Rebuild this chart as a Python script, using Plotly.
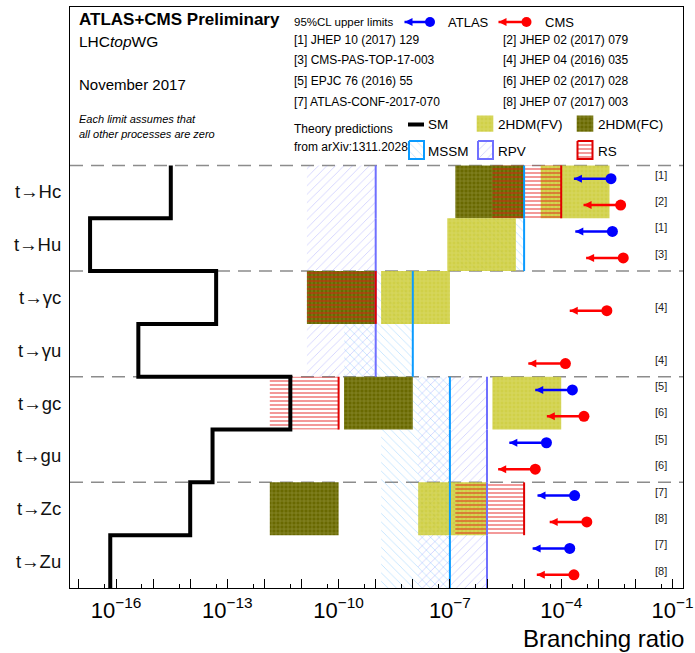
import plotly.graph_objects as go

# ---------------- data ----------------
processes = ["t→Hc", "t→Hu", "t→γc", "t→γu", "t→gc", "t→gu", "t→Zc", "t→Zu"]

# Standard Model predictions
sm_br = [3e-15, 2e-17, 5e-14, 4e-16, 5e-12, 4e-14, 1e-14, 7e-17]

# Theory bands (low / high edge as drawn), None = no prediction
fv_lo = [2.8e-5, 8.5e-8, 1.4e-9, None, 1.4e-6, None, 1.4e-8, None]
fv_hi = [2e-3, 6e-6, 1e-7, None, 1e-4, None, 1e-6, None]
fc_lo = [1.4e-7, None, 1.4e-11, None, 1.4e-10, None, 1.4e-12, None]
fc_hi = [1e-5, None, 1e-9, None, 1e-8, None, 1e-10, None]
mssm_lo = [1.4e-7, 1.4e-7, 1.4e-10, 1.4e-10, 1.4e-9, 1.4e-9, 1.4e-9, 1.4e-9]
mssm_hi = [1e-5, 1e-5, 1e-8, 1e-8, 1e-7, 1e-7, 1e-7, 1e-7]
rpv_lo = [1.4e-11, 1.4e-11, 1.4e-11, 1.4e-11, 1.4e-8, 1.4e-8, 1.4e-8, 1.4e-8]
rpv_hi = [1e-9, 1e-9, 1e-9, 1e-9, 1e-6, 1e-6, 1e-6, 1e-6]
rs_lo = [1.4e-6, None, 1.4e-11, None, 1.4e-12, None, 1.4e-7, None]
rs_hi = [1e-4, None, 1e-9, None, 1e-10, None, 1e-5, None]

# 95% CL upper limits
atlas_limit = [2.2e-3, 2.4e-3, None, None, 2.0e-4, 4.0e-5, 2.3e-4, 1.7e-4]
cms_limit = [4.0e-3, 4.7e-3, 1.7e-3, 1.3e-4, 4.1e-4, 2.0e-5, 4.9e-4, 2.2e-4]
atlas_ref = ["[1]", "[1]", None, None, "[5]", "[5]", "[7]", "[7]"]
cms_ref = ["[2]", "[3]", "[4]", "[4]", "[6]", "[6]", "[8]", "[8]"]
arrow_factor = 10.0  # arrows span one decade

references = [
    ("[1] JHEP 10 (2017) 129", "[2] JHEP 02 (2017) 079"),
    ("[3] CMS-PAS-TOP-17-003", "[4] JHEP 04 (2016) 035"),
    ("[5] EPJC 76 (2016) 55", "[6] JHEP 02 (2017) 028"),
    ("[7] ATLAS-CONF-2017-070", "[8] JHEP 07 (2017) 003"),
]

tick_exps = list(range(-17, 0))
labelled_exps = [-16, -13, -10, -7, -4, -1]

# ---------------- layout helpers ----------------
FONT = "Liberation Sans, Arial, Helvetica, sans-serif"
W, H = 695, 653
L, R, T, B = 70, 683, 7, 588
XR = [-17.24, -0.717]


def px(x):
    return (x - L) / (R - L)


def py(y):
    return (B - y) / (B - T)


N = len(processes)
top = [N - i for i in range(N)]
bot = [N - i - 1 for i in range(N)]
ctr = [N - i - 0.5 for i in range(N)]

fig = go.Figure()


def add_band(lo, hi, fillcolor, pattern):
    xs, ys = [], []
    for i in range(N):
        if hi[i] is None:
            continue
        xs += [lo[i], hi[i], hi[i], lo[i], lo[i], None]
        ys += [top[i], top[i], bot[i], bot[i], top[i], None]
    fig.add_trace(go.Scatter(x=xs, y=ys, mode="lines", fill="toself",
                             fillcolor=fillcolor, fillpattern=pattern,
                             line=dict(width=0), hoverinfo="skip",
                             showlegend=False))


def add_edge(hi, color, width=2):
    xs, ys = [], []
    for i in range(N):
        if hi[i] is None:
            continue
        xs += [hi[i], hi[i], None]
        ys += [top[i], bot[i], None]
    fig.add_trace(go.Scatter(x=xs, y=ys, mode="lines",
                             line=dict(color=color, width=width),
                             hoverinfo="skip", showlegend=False))


C_RPV = "#7070ff"
C_MSSM = "#0a9bff"
C_RS = "#e00000"

FV_BG = "rgba(200,200,40,0.85)"
FC_BG = "rgb(105,105,0)"
P_RPV = dict(shape="/", fgcolor="rgba(110,110,255,0.6)", bgcolor="rgba(0,0,0,0)",
             size=6, solidity=0.15, fillmode="overlay")
P_MSSM = dict(shape="\\", fgcolor="rgba(60,170,255,0.6)", bgcolor="rgba(0,0,0,0)",
              size=6, solidity=0.15, fillmode="overlay")
P_FC = dict(shape="+", fgcolor="rgba(210,210,150,0.7)", bgcolor=FC_BG,
            size=4, solidity=0.3, fillmode="overlay")
P_FV = dict(shape="+", fgcolor="rgba(235,235,170,0.7)", bgcolor=FV_BG,
            size=4, solidity=0.3, fillmode="overlay")
P_RS = dict(shape="-", fgcolor="rgb(225,0,0)", bgcolor="rgba(0,0,0,0)",
            size=4, solidity=0.4, fillmode="overlay")

add_band(rpv_lo, rpv_hi, "rgba(0,0,0,0)", P_RPV)
add_band(mssm_lo, mssm_hi, "rgba(0,0,0,0)", P_MSSM)
add_band(fc_lo, fc_hi, FC_BG, P_FC)
add_band(fv_lo, fv_hi, FV_BG, P_FV)
add_band(rs_lo, rs_hi, "rgba(0,0,0,0)", P_RS)
add_edge(rpv_hi, C_RPV)
add_edge(mssm_hi, C_MSSM)
add_edge(rs_hi, C_RS)

# SM step line
sm_x, sm_y = [], []
for i in range(N):
    sm_x += [sm_br[i], sm_br[i]]
    sm_y += [top[i], bot[i]]
fig.add_trace(go.Scatter(x=sm_x, y=sm_y, mode="lines",
                         line=dict(color="black", width=4),
                         hoverinfo="skip", showlegend=False))


# limits
def add_limits(limits, refs, offset, color):
    lx, ly, tipx, tipy, dx, dy = [], [], [], [], [], []
    for i in range(N):
        if limits[i] is None:
            continue
        yv = ctr[i] + offset
        lx += [limits[i] / arrow_factor, limits[i], None]
        ly += [yv, yv, None]
        tipx.append(limits[i] / arrow_factor)
        tipy.append(yv)
        dx.append(limits[i])
        dy.append(yv)
        fig.add_annotation(x=px(669), xref="paper", y=yv, yref="y", yshift=4,
                           text=refs[i], showarrow=False,
                           font=dict(size=11, color="#222", family=FONT))
    fig.add_trace(go.Scatter(x=lx, y=ly, mode="lines",
                             line=dict(color=color, width=2.5),
                             hoverinfo="skip", showlegend=False))
    fig.add_trace(go.Scatter(x=tipx, y=tipy, mode="markers",
                             marker=dict(symbol="arrow-left", size=8, color=color),
                             hoverinfo="skip", showlegend=False))
    fig.add_trace(go.Scatter(x=dx, y=dy, mode="markers",
                             marker=dict(symbol="circle", size=11, color=color),
                             hoverinfo="skip", showlegend=False))


add_limits(atlas_limit, atlas_ref, 0.25, "#0000ff")
add_limits(cms_limit, cms_ref, -0.25, "#ff0000")


# ---------------- header legend (pixel-space overlay axes) ----------------
def leg_line(x0, x1, y, color, width):
    fig.add_trace(go.Scatter(x=[x0, x1], y=[y, y], xaxis="x2", yaxis="y2",
                             mode="lines", line=dict(color=color, width=width),
                             hoverinfo="skip", showlegend=False))


def leg_box(x0, x1, y0, y1, fillcolor, pattern, border=None):
    fig.add_trace(go.Scatter(x=[x0, x1, x1, x0, x0], y=[y0, y0, y1, y1, y0],
                             xaxis="x2", yaxis="y2", mode="lines", fill="toself",
                             fillcolor=fillcolor, fillpattern=pattern,
                             line=dict(width=2 if border else 0,
                                       color=border or "rgba(0,0,0,0)"),
                             hoverinfo="skip", showlegend=False))


def leg_arrow(x0, x1, y, color):
    leg_line(x0, x1, y, color, 2.5)
    fig.add_trace(go.Scatter(x=[x0], y=[y], xaxis="x2", yaxis="y2", mode="markers",
                             marker=dict(symbol="arrow-left", size=8, color=color),
                             hoverinfo="skip", showlegend=False))
    fig.add_trace(go.Scatter(x=[x1], y=[y], xaxis="x2", yaxis="y2", mode="markers",
                             marker=dict(symbol="circle", size=10, color=color),
                             hoverinfo="skip", showlegend=False))


leg_arrow(404.5, 430, 22, "#0000ff")
leg_arrow(498.5, 526.5, 22, "#ff0000")
leg_line(408, 424, 124.5, "black", 4)
leg_box(476.7, 493.3, 115.5, 131.7, FV_BG, P_FV)
leg_box(576.7, 593.3, 115.5, 131.7, FC_BG, P_FC)
leg_box(409, 424, 141, 159, "rgba(0,0,0,0)", P_MSSM, C_MSSM)
leg_box(478, 493, 141, 159, "rgba(0,0,0,0)", P_RPV, C_RPV)
leg_box(577.5, 592.5, 141, 159, "rgba(0,0,0,0)", P_RS, C_RS)

# invisible trace carrying the extra tick axis
fig.add_trace(go.Scatter(x=[1e-10], y=[1], xaxis="x3", mode="markers",
                         marker=dict(opacity=0), hoverinfo="skip", showlegend=False))


def text(x, y, s, size, **kw):
    fig.add_annotation(x=px(x), y=py(y), xref="paper", yref="paper", text=s,
                       showarrow=False, xanchor=kw.get("xanchor", "left"),
                       yanchor="middle",
                       font=dict(size=size, color="black", family=FONT))


text(77, 20, "<b>ATLAS+CMS Preliminary</b>", 17)
text(77, 41, "LHC<i>top</i>WG", 15.5)
text(77, 85, "November 2017", 15)
text(77, 119, "<i>Each limit assumes that</i>", 11)
text(77, 134, "<i>all other processes are zero</i>", 11)
text(292, 22, "95%CL upper limits", 11.5)
text(446, 22, "ATLAS", 13)
text(543, 22, "CMS", 13)
ref_y = [40, 60, 81, 102]
for (a, b), yy in zip(references, ref_y):
    text(292, yy, a, 12)
    text(501, yy, b, 12)
text(292, 129, "Theory predictions", 12)
text(292, 147, "from arXiv:1311.2028", 12)
text(426, 124.5, "SM", 13.5)
text(496, 124.5, "2HDM(FV)", 13.5)
text(595.5, 124.5, "2HDM(FC)", 13.5)
text(426, 151, "MSSM", 13.5)
text(496, 151, "RPV", 13.5)
text(595.5, 151, "RS", 13.5)

# axis title
text(686, 638.5, "Branching ratio", 24, xanchor="right")

# section separators
for yy in [8, 6, 4, 2]:
    fig.add_shape(type="line", xref="paper", x0=0, x1=1, yref="y", y0=yy, y1=yy,
                  line=dict(color="#8c8c8c", width=1.5, dash="13px,8px"),
                  layer="below")

label_vals = [10.0 ** e for e in labelled_exps]
label_text = ["10<sup>−%d</sup>" % (-e) for e in labelled_exps]
tick_vals = [10.0 ** e for e in tick_exps]
minor_vals = [5 * 10.0 ** e for e in range(-18, -1)]

fig.update_layout(
    width=W, height=H,
    margin=dict(l=L, r=W - R, t=T, b=H - B),
    paper_bgcolor="white", plot_bgcolor="white",
    font=dict(family=FONT, color="black"),
    showlegend=False,
    xaxis=dict(type="log", range=XR, showgrid=False, zeroline=False,
               automargin=False,
               showline=True, mirror=True, linecolor="black", linewidth=1.2,
               ticks="", tickmode="array", tickvals=label_vals, ticktext=label_text,
               tickfont=dict(size=22, family=FONT, color="black"),
               ticklabelstandoff=2),
    xaxis3=dict(type="log", range=XR, overlaying="x", anchor="y", side="bottom",
                automargin=False, showgrid=False, zeroline=False, showline=False,
                showticklabels=False,
                ticks="inside", ticklen=9, tickwidth=1, tickcolor="black",
                tickmode="array", tickvals=tick_vals,
                minor=dict(tickvals=minor_vals, ticks="inside", ticklen=4,
                           tickcolor="black", showgrid=False)),
    yaxis=dict(range=[0, 11], showgrid=False, zeroline=False, automargin=False,
               showline=True, mirror=True, linecolor="black", linewidth=1.2,
               ticks="", tickmode="array", tickvals=ctr, ticktext=processes,
               tickfont=dict(size=18.5, family=FONT, color="#111"),
               ticklabelstandoff=4),
    xaxis2=dict(overlaying="x", range=[L, R], visible=False, anchor="y2",
                automargin=False),
    yaxis2=dict(overlaying="y", range=[B, T], visible=False, anchor="x2",
                automargin=False),
)

fig.write_html("out.html",
               config={"displayModeBar": False},
               post_script="document.body.style.margin='0';"
                           "document.body.style.overflow='hidden';")
